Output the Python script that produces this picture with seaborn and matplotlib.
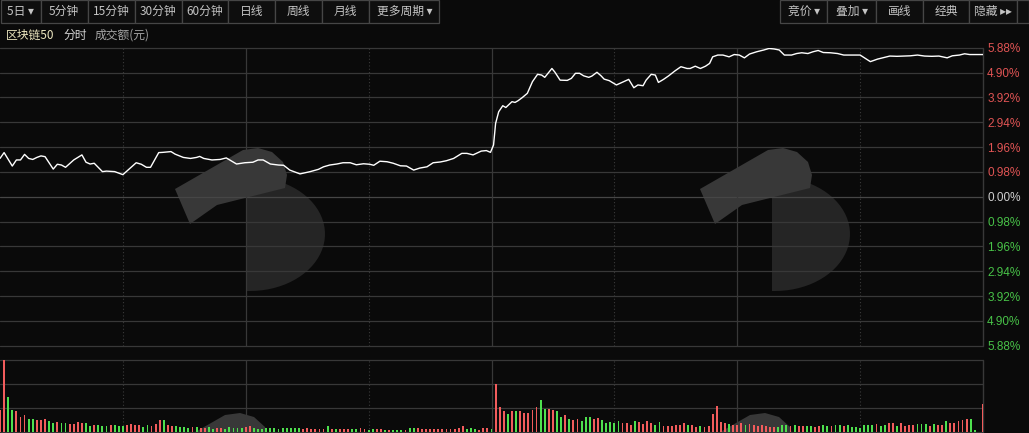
import numpy as np
import pandas as pd
import matplotlib
matplotlib.use('Agg')
import matplotlib.pyplot as plt
import seaborn as sns
from matplotlib.patches import Polygon, Rectangle

# --- data (4 sessions x 240 min) ---
title_name = '区块链50'
periods = ['5日 ▾', '5分钟', '15分钟', '30分钟', '60分钟', '日线', '周线', '月线', '更多周期 ▾']
tools = ['竞价 ▾', '叠加 ▾', '画线', '经典', '隐藏 ▸▸']

# minute index and change vs. previous close (%)
line_t = [0, 4, 12, 16, 20, 24, 28, 32, 36, 40, 44, 52, 56, 60, 64, 72, 80, 84, 88, 92,
          100, 104, 112, 120, 125, 133, 138, 143, 147, 155, 159, 167, 171, 179, 186, 192, 195, 199, 207, 215,
          221, 231, 239, 247, 252, 257, 264, 272, 277, 283, 293, 303, 311, 316, 322, 329, 335, 342, 348, 355,
          361, 365, 371, 378, 384, 391, 397, 404, 410, 417, 423, 430, 436, 443, 451, 456, 462, 470, 475, 479,
          482, 484, 487, 491, 494, 500, 503, 506, 510, 515, 520, 525, 529, 532, 539, 542, 547, 554, 558, 562,
          566, 570, 575, 578, 583, 587, 590, 595, 602, 609, 614, 619, 623, 628, 631, 636, 640, 643, 648, 653,
          659, 665, 671, 674, 679, 684, 689, 693, 696, 701, 706, 712, 717, 722, 727, 732, 739, 746, 751, 756,
          761, 766, 773, 778, 783, 789, 794, 799, 804, 811, 818, 824, 831, 840, 845, 850, 857, 862, 869, 876,
          883, 889, 896, 903, 910, 917, 925, 930, 937, 942, 947, 954, 960]
line_pct = [1.51, 1.74, 1.21, 1.45, 1.45, 1.67, 1.51, 1.47, 1.55, 1.61, 1.58, 1.09, 1.28, 1.25, 1.16, 1.45, 1.65, 1.36, 1.29, 1.32,
            0.99, 1.01, 0.99, 0.87, 1.05, 1.34, 1.28, 1.16, 1.16, 1.74, 1.75, 1.78, 1.68, 1.55, 1.51, 1.55, 1.59, 1.51, 1.45, 1.47,
            1.53, 1.29, 1.34, 1.36, 1.45, 1.45, 1.29, 1.25, 1.24, 1.05, 0.90, 0.99, 1.08, 1.18, 1.25, 1.29, 1.34, 1.34, 1.26, 1.30,
            1.28, 1.24, 1.40, 1.38, 1.32, 1.22, 1.21, 1.05, 1.13, 1.18, 1.34, 1.37, 1.42, 1.51, 1.71, 1.71, 1.65, 1.80, 1.82, 1.75,
            2.04, 2.89, 3.35, 3.59, 3.52, 3.75, 3.72, 3.79, 3.91, 4.08, 4.54, 4.83, 4.80, 4.71, 5.06, 4.91, 4.60, 4.59, 4.67, 4.87,
            4.87, 4.77, 4.71, 4.76, 4.91, 4.77, 4.64, 4.58, 4.41, 4.54, 4.63, 4.30, 4.41, 4.38, 4.60, 4.83, 4.80, 4.51, 4.63, 4.77,
            4.96, 5.13, 5.06, 5.06, 5.15, 5.06, 5.15, 5.26, 5.52, 5.59, 5.59, 5.52, 5.61, 5.59, 5.48, 5.63, 5.72, 5.79, 5.85, 5.83,
            5.79, 5.59, 5.59, 5.65, 5.68, 5.65, 5.72, 5.77, 5.69, 5.68, 5.65, 5.59, 5.59, 5.59, 5.46, 5.33, 5.43, 5.48, 5.55, 5.54,
            5.55, 5.56, 5.59, 5.55, 5.54, 5.55, 5.48, 5.56, 5.59, 5.64, 5.61, 5.61, 5.61]

# turnover bars, one every 4 minutes (arbitrary units), 1 = up (red), 0 = down (green)
vol = [21.3, 71.3, 34.7, 21.3, 20.3, 14.7, 16.3, 13, 12.3, 11.3,
       11.3, 13, 11, 9, 10, 9, 9, 7.7, 7.3, 10,
       8.3, 9, 5.7, 6.7, 7, 6, 6, 7, 7, 5.3,
       6, 6.3, 8, 6.7, 6.3, 4.3, 7, 5.3, 8, 11.3,
       11.3, 6.7, 6, 6, 4.7, 4.3, 4, 4.7, 4.7, 4,
       3.7, 4.7, 3, 4, 4, 3, 4.3, 3.7, 3.7, 4,
       4.7, 6, 4, 3, 2.7, 4, 3.3, 4, 2.7, 3.3,
       4, 4, 3.3, 4, 3, 3.7, 3, 2.3, 3, 2.7,
       6, 2.7, 2.3, 2.3, 2.3, 3, 2.3, 2.3, 4, 2.3,
       1.7, 2.3, 3, 3, 2, 1.3, 2, 2, 1.3, 1.7,
       3.7, 3.7, 4, 3, 2.3, 2.3, 2.3, 2.3, 3, 2.3,
       3, 3, 4, 6, 3, 3.3, 3, 2, 3.3, 4,
       2.7, 48, 25, 20.3, 18, 20.3, 20.3, 20.3, 19, 19,
       22, 25, 32, 23, 22.3, 22, 20.3, 14.7, 16.3, 12.3,
       11.3, 13, 10.3, 14.7, 14.7, 13, 14, 12, 9, 9.7,
       9, 10.3, 9, 9, 7, 11, 9.7, 8, 10.3, 9,
       7, 9.7, 5.7, 5.7, 5.7, 6.7, 6.7, 9, 7, 6.7,
       5, 5.7, 5, 5.7, 18, 26, 9.7, 9, 8, 6.7,
       6.3, 9, 6.7, 7.3, 6.7, 5.7, 6.7, 5.7, 4.7, 4.7,
       5, 7, 7, 5.7, 7, 6, 5.3, 5.7, 5.7, 4.7,
       6, 6.7, 5.7, 5.7, 6.7, 6.7, 6, 6.7, 4.7, 4.7,
       4, 7, 7, 7, 7.7, 6, 6.7, 8.3, 8.3, 6,
       9, 6, 6.7, 7, 7.7, 7.7, 8, 5.7, 8, 7,
       7, 10.3, 9, 9, 10.3, 12, 13, 12.3, 1.3, 0,
       28]
vol_up = [1, 1, 0, 0, 1, 1, 1, 0, 0, 1,
          1, 1, 0, 0, 1, 0, 0, 1, 1, 1,
          1, 0, 0, 1, 0, 0, 0, 1, 0, 0,
          0, 1, 1, 1, 1, 0, 0, 1, 1, 1,
          0, 1, 1, 0, 0, 0, 0, 1, 0, 1,
          1, 0, 0, 1, 1, 0, 0, 0, 0, 0,
          1, 1, 0, 0, 0, 0, 0, 0, 0, 0,
          0, 0, 0, 0, 1, 1, 1, 1, 1, 1,
          0, 1, 0, 1, 1, 1, 0, 0, 1, 1,
          0, 0, 1, 1, 0, 1, 0, 0, 0, 1,
          0, 0, 1, 1, 1, 1, 1, 1, 1, 1,
          1, 1, 1, 1, 0, 0, 0, 1, 1, 1,
          0, 1, 1, 1, 0, 1, 0, 1, 1, 1,
          1, 1, 0, 0, 1, 1, 0, 0, 1, 0,
          1, 1, 0, 0, 0, 1, 1, 0, 0, 0,
          0, 0, 1, 1, 1, 0, 1, 1, 1, 1,
          0, 0, 1, 1, 1, 1, 1, 1, 0, 1,
          1, 0, 1, 1, 1, 1, 1, 1, 0, 1,
          1, 1, 0, 1, 1, 1, 1, 1, 1, 1,
          0, 0, 0, 1, 0, 1, 1, 0, 0, 1,
          1, 0, 0, 1, 0, 0, 1, 0, 0, 0,
          0, 0, 0, 0, 1, 0, 0, 1, 1, 0,
          1, 1, 1, 1, 0, 0, 0, 1, 0, 1,
          1, 0, 1, 1, 1, 1, 1, 0, 0, 0,
          1]
vol_step = 4  # minutes per bar

pct_ticks = [5.88, 4.90, 3.92, 2.94, 1.96, 0.98, 0.00, -0.98, -1.96, -2.94, -3.92, -4.90, -5.88]

# --- style ---
BG = '#0a0a0a'
GRID = '#383838'
RED = '#e05454'
GREEN = '#48c248'
BAR_RED = '#f25c5c'
BAR_GREEN = '#4ee04e'
W, H = 1029, 433

sns.set_theme(style='dark', rc={'axes.facecolor': 'none', 'figure.facecolor': BG,
                                'patch.force_edgecolor': False})
plt.rcParams['font.family'] = ['Noto Sans CJK SC', 'DejaVu Sans']


def fx(x):
    return x / W


def fy(y):
    return 1 - y / H


fig = plt.figure(figsize=(W / 100, H / 100), dpi=100, facecolor=BG)

# faint watermark logos behind the panels
def add_logo(ox, oy):
    a = np.linspace(np.pi / 2, -np.pi / 2, 40)
    d = [(ox + 72, oy + 27)] + [(ox + 75 + 75 * np.cos(v), oy + 84 - 57 * np.sin(v)) for v in a] + [(ox + 72, oy + 141)]
    band = [(ox, oy + 39), (ox + 68, oy), (ox + 83, oy - 2), (ox + 97, oy + 2), (ox + 108, oy + 12),
            (ox + 112, oy + 25), (ox + 110, oy + 38), (ox + 42, oy + 55), (ox + 15, oy + 74)]
    for pts, col in [(d, '#252525'), (band, '#383838')]:
        fig.add_artist(Polygon([(fx(x), fy(y)) for x, y in pts], closed=True, transform=fig.transFigure,
                               fc=col, ec='none', zorder=-1))


for ox, oy in [(175, 150), (700, 150), (157, 415), (682, 415)]:
    add_logo(ox, oy)

# --- price panel ---
ax = fig.add_axes([0, fy(345.7), fx(983), (345.7 - 47.7) / H])
ax.set_facecolor('none')
for v in pct_ticks:
    ax.axhline(v, color='#464646' if v == 0 else GRID, lw=0.9, clip_on=False, zorder=1)
for d in range(1, 8):
    if d % 2 == 0:
        ax.axvline(d * 120, color=GRID, lw=0.9, zorder=1)
    else:
        ax.axvline(d * 120, color='#3a3a3a', lw=0.8, ls=(0, (1, 2)), zorder=1)
ax.axvline(960, color=GRID, lw=1.0, clip_on=False, zorder=1)

sns.lineplot(x=line_t, y=line_pct, ax=ax, color='white', lw=1.0, estimator=None, sort=False, zorder=3)
ax.set_xlim(0, 960)
ax.set_ylim(-5.88, 5.88)
ax.set_xticks([])
ax.set_yticks(pct_ticks)
ax.set_yticklabels([f'{abs(v):.2f}%' for v in pct_ticks])
ax.yaxis.tick_right()
ax.tick_params(axis='y', length=0, pad=3, labelsize=8.5)
for lab, v in zip(ax.get_yticklabels(), pct_ticks):
    lab.set_color(RED if v > 0 else (GREEN if v < 0 else '#d0d0d0'))
    lab.set_fontfamily('Liberation Sans')
ax.set_xlabel('')
ax.set_ylabel('')
for s in ax.spines.values():
    s.set_visible(False)
ax.grid(False)

# --- turnover panel ---
axv = fig.add_axes([0, fy(431.5), fx(983), (431.5 - 359.5) / H])
axv.set_facecolor('none')
vdf = pd.DataFrame({'t': np.arange(len(vol)) * vol_step, 'vol': vol, 'up': vol_up})
for v in [0, 24, 48, 72]:
    axv.axhline(v, color=GRID, lw=0.9, clip_on=False, zorder=1)
for d in range(1, 8):
    if d % 2 == 0:
        axv.axvline(d * 120, color=GRID, lw=0.9, zorder=1)
    else:
        axv.axvline(d * 120, color='#3a3a3a', lw=0.8, ls=(0, (1, 2)), zorder=1)
axv.axvline(960, color=GRID, lw=1.0, clip_on=False, zorder=1)
sns.barplot(data=vdf, x='t', y='vol', color=BAR_RED, native_scale=True, width=0.45,
            errorbar=None, saturation=1, ax=axv, zorder=3)
# colour each bar by its direction
for p in axv.patches:
    i = int(round((p.get_x() + p.get_width() / 2) / vol_step))
    p.set_facecolor(BAR_RED if vol_up[i] else BAR_GREEN)
    p.set_edgecolor('none')
    p.set_linewidth(0)
axv.set_xlim(0, 960)
axv.set_ylim(0, 72)
axv.set_xticks([])
axv.set_yticks([])
axv.set_xlabel('')
axv.set_ylabel('')
for s in axv.spines.values():
    s.set_visible(False)
axv.grid(False)

# --- toolbar and header ---
left_edges = [0.5, 40.7, 87.7, 134.7, 181.7, 228.3, 275.3, 322.3, 369.3, 439.3]
right_edges = [780, 827.3, 875.7, 922.7, 969.3, 1016.7, 1028.5]
for edges, labels in [(left_edges, periods), (right_edges, tools + [''])]:
    for x0, x1, lab in zip(edges[:-1], edges[1:], labels):
        fig.add_artist(Rectangle((fx(x0), fy(22.7)), fx(x1 - x0), 22.2 / H, transform=fig.transFigure,
                                 fc='#0e0e0e', ec='#464646', lw=0.9))
        fig.text(fx((x0 + x1) / 2), fy(11.5), lab, ha='center', va='center', color='#c4c4c4', fontsize=8.5)

fig.text(fx(6), fy(35), title_name, ha='left', va='center', color='#ece6bf', fontsize=8.5)
fig.text(fx(63), fy(35), '分时', ha='left', va='center', color='#d4d4d4', fontsize=8.5)
fig.text(fx(95), fy(35), '成交额(元)', ha='left', va='center', color='#a6a6a6', fontsize=8.5)

fig.savefig('out.png', dpi=100, facecolor=BG)
